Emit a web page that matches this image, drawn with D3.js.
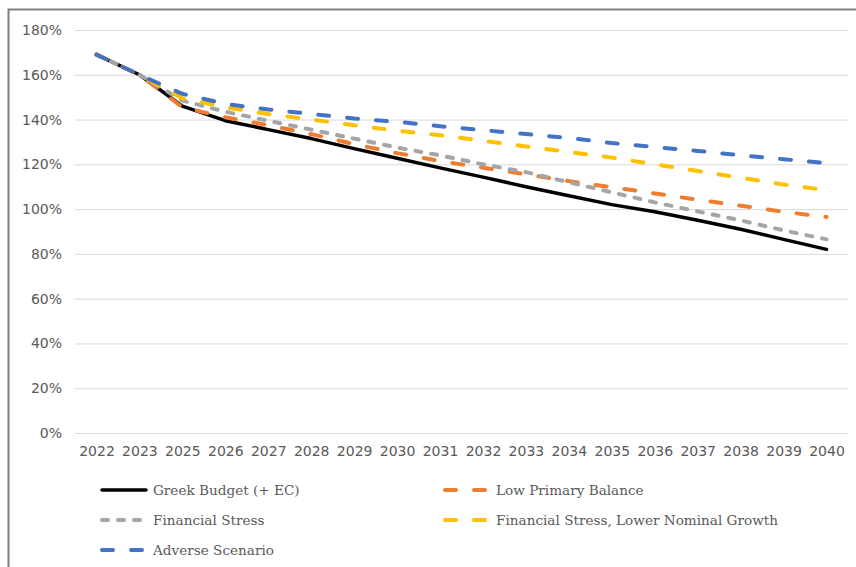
<!DOCTYPE html>
<html>
<head>
<meta charset="utf-8">
<script src="https://cdn.jsdelivr.net/npm/d3@7"></script>
<style>
  body { margin: 0; background: #fff; }
  svg { display: block; }
  .tick text { fill: #595959; font-family: "DejaVu Sans", Verdana, sans-serif; font-size: 14px; }
  .legend text { fill: #595959; font-family: "DejaVu Serif", Cambria, serif; font-size: 13.6px; }
</style>
</head>
<body>
<div id="chart"></div>
<script>
// years on the x axis (2024 is skipped in the source)
const years = ["2022", "2023", "2025", "2026", "2027", "2028", "2029", "2030", "2031",
               "2032", "2033", "2034", "2035", "2036", "2037", "2038", "2039", "2040"];

// debt to GDP, percent
const greekBudget = [169, 160, 146, 139.5, 135.5, 131.5, 127, 122.7, 118.4, 114.3, 110, 106, 102, 98.8, 95, 91, 86.5, 82];
const lowPrimary = [169, 160, 145.5, 141, 137.5, 133.5, 129, 125, 121.5, 118.5, 115.5, 112.5, 109.8, 107, 104.2, 101.5, 98.8, 96.5];
const finStress = [169, 160, 148.5, 143.5, 139.5, 135.5, 131.5, 127.5, 124, 120, 116.5, 112, 107.5, 103, 99, 95, 90.5, 86.5];
const finStressLowGrowth = [169, 160, 149.5, 145.5, 142.5, 140, 137.5, 135, 133, 130.5, 128, 125.5, 123, 120, 117, 114, 111, 108.5];
const adverse = [169, 160, 151.5, 147, 144.5, 142.5, 140.5, 139, 137, 135.3, 133.5, 131.8, 129.5, 127.7, 126, 124, 122.3, 120.5];

const yTicks = [0, 20, 40, 60, 80, 100, 120, 140, 160, 180];

// series in legend order, later ones draw on top
const series = [
  {name: "Greek Budget (+ EC)", vals: greekBudget, color: "#000000", width: 3.5, dash: null},
  {name: "Low Primary Balance", vals: lowPrimary, color: "#ED7D31", width: 4, dash: "11,18"},
  {name: "Financial Stress", vals: finStress, color: "#A5A5A5", width: 4, dash: "6,10"},
  {name: "Financial Stress, Lower Nominal Growth", vals: finStressLowGrowth, color: "#FFC000", width: 4, dash: "11,18"},
  {name: "Adverse Scenario", vals: adverse, color: "#4472C4", width: 4, dash: "11,18"}
];

const W = 856, H = 567;
const svg = d3.select("#chart").append("svg").attr("width", W).attr("height", H);

// outer frame of the chart
svg.append("rect")
  .attr("x", 8.5).attr("y", 9.5)
  .attr("width", W + 10).attr("height", H + 10)
  .attr("fill", "none").attr("stroke", "#7f7f7f").attr("stroke-width", 2);

const plotLeft = 75, plotRight = 848, plotTop = 30, plotBottom = 433;

const x = d3.scalePoint().domain(years).range([plotLeft, plotRight]).padding(0.5);
const y = d3.scaleLinear().domain([0, 180]).range([plotBottom, plotTop]);

// gridlines + y labels
const yAxis = svg.append("g")
  .attr("transform", `translate(${plotLeft},0)`)
  .call(d3.axisLeft(y).tickValues(yTicks).tickSize(-(plotRight - plotLeft)).tickPadding(13).tickFormat(d => d + "%"));
yAxis.select(".domain").remove();
yAxis.selectAll(".tick line").attr("stroke", "#d9d9d9").attr("stroke-width", 1);

// x labels
const xAxis = svg.append("g")
  .attr("transform", `translate(0,${plotBottom})`)
  .call(d3.axisBottom(x).tickSize(0).tickPadding(13));
xAxis.select(".domain").remove();

const line = d3.line()
  .x((d, i) => x(years[i]))
  .y(d => y(d));

svg.append("g").selectAll("path")
  .data(series)
  .enter()
  .append("path")
    .attr("d", d => line(d.vals))
    .attr("fill", "none")
    .attr("stroke", d => d.color)
    .attr("stroke-width", d => d.width)
    .attr("stroke-dasharray", d => d.dash)
    .attr("stroke-linecap", "round")
    .attr("stroke-linejoin", "round");

// legend, two columns
const legendPos = [[100, 490], [443, 490], [100, 520], [443, 520], [100, 550]];
const legend = svg.append("g").attr("class", "legend");
series.forEach((s, i) => {
  let [lx, ly] = legendPos[i];
  let g = legend.append("g").attr("transform", `translate(${lx},${ly})`);
  g.append("line")
    .attr("x1", 2).attr("x2", 46).attr("y1", 0).attr("y2", 0)
    .attr("stroke", s.color)
    .attr("stroke-width", s.width)
    .attr("stroke-dasharray", s.dash)
    .attr("stroke-linecap", "round");
  g.append("text")
    .attr("x", 53).attr("y", 5)
    .text(s.name);
});
</script>
</body>
</html>
